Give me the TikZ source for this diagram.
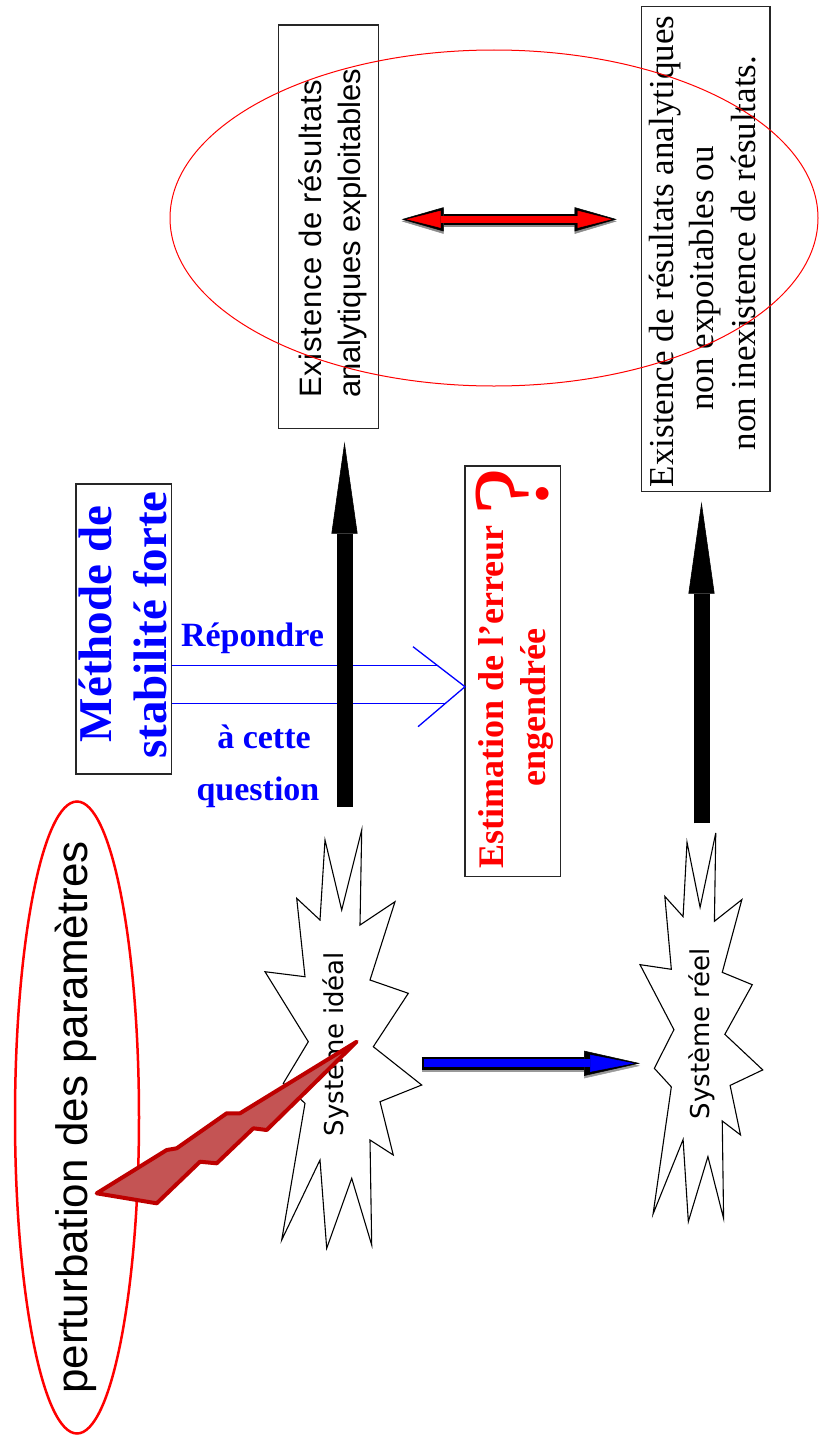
\documentclass[tikz,border=0pt]{standalone}
\usepackage{fontspec}
\setmainfont{Liberation Serif}
\newfontfamily\arialf{Liberation Sans}
\newfontfamily\arialsp[LetterSpace=2.5]{Liberation Sans}
\newfontfamily\dejaf{DejaVu Sans}
\usetikzlibrary{arrows.meta,calc}
\definecolor{boltline}{RGB}{190,0,0}
\definecolor{boltfill}{RGB}{196,84,84}
\tikzset{
  boxst/.style={draw=black!85, line width=1.5pt, inner sep=0pt, fill=white},
  rtext/.style={rotate=90, anchor=base, inner sep=0pt},
  htext/.style={anchor=base, inner sep=0pt},
  burst/.style={draw=black, line width=1.1pt, fill=white, line join=miter},
  bigarrow/.style={line width=16pt, black, -{Triangle[width=26pt,length=92pt,line width=0.6pt]}},
}
\newcommand\burstshape{%
  \draw[burst] (361.7,830) -- (360,925) -- (395,901.7) -- (370,980) -- (408.3,993.3)
   -- (373.3,1046.7) -- (421.7,1085) -- (380,1101.7) -- (393.3,1155) -- (370,1140)
   -- (371.7,1245) -- (351.7,1178.3) -- (326.7,1248.3) -- (320,1160) -- (281.7,1240)
   -- (305,1103.3) -- (283.3,1083.3) -- (308.3,1041.7) -- (265,971.7) -- (305,976.7)
   -- (296.7,898.3) -- (320,920) -- (325,840) -- (341.7,910) -- cycle;}
\begin{document}
\begin{tikzpicture}[x=1pt,y=-1pt]
\useasboundingbox (0,0) rectangle (820,1437);
\fill[white] (0,0) rectangle (820,1437);

% perturbation
\draw[red, line width=2.5pt] (77,1117.5) ellipse [x radius=62, y radius=316];
\node[rtext, font=\arialf\fontsize{44}{50}\selectfont] (pert) at (87,1117.5) {perturbation des paramètres};

% starbursts
\burstshape
\node[rtext, font=\dejaf\fontsize{26}{30}\selectfont] (ideal) at (343.3,1044) {Système idéal};
\begin{scope}[shift={(640,833)}, xscale=0.7834, yscale=0.929, shift={(-265,-830)}]
  \burstshape
\end{scope}
\node[rtext, font=\dejaf\fontsize{26}{30}\selectfont] (reel) at (709.3,1034) {Système réel};

% lightning bolt
\draw[draw=boltline, fill=boltfill, line width=4pt, line join=round]
  (96.7,1193.3) -- (166.7,1150) -- (176.7,1148.3) -- (226.7,1113.3) -- (240,1113.3)
  -- (356.7,1041.7) -- (266.7,1130) -- (253.3,1128.3) -- (216.7,1163.3) -- (200,1161.7)
  -- (156.7,1203.3) -- cycle;

% blue block arrow ideal -> reel
\coordinate (bA) at (421.7,1063.3);
\coordinate (bB) at (640,1063.3);
\draw[line width=13pt, black!40, -{Triangle[width=25pt,length=56pt,line width=0.5pt]}] ([yshift=-2.5pt]bA) -- ([yshift=-2.5pt]bB);
\draw[line width=13pt, black, -{Triangle[width=25pt,length=56pt,line width=0.5pt]}] (bA) -- (bB);
\draw[line width=8pt, blue, -{Triangle[width=17pt,length=44pt,line width=0.5pt]}, shorten >=6pt, shorten <=2.5pt] (bA) -- (bB);

% boxes
\node[boxst, minimum width=100pt, minimum height=403.3pt] (box1) at (328.3,226.7) {};
\node[boxst, minimum width=128.3pt, minimum height=485pt] (box2) at (705.8,249.2) {};
\node[boxst, minimum width=95.7pt, minimum height=290pt] (meth) at (123.8,629) {};
\node[boxst, minimum width=95.7pt, minimum height=410.7pt] (est) at (512.8,671.3) {};

% blue open arrow (Répondre à cette question)
\coordinate (u1) at (171.7,665.7);
\coordinate (u2) at (437.7,665.7);
\coordinate (l1) at (171.7,703.3);
\coordinate (l2) at (445.5,703.3);
\coordinate (tipq) at (465,686.7);
\coordinate (arm1) at (413,646.7);
\coordinate (arm2) at (418,726.7);
\draw[blue, line width=1.3pt] (u1) -- (u2);
\draw[blue, line width=1.3pt] (l1) -- (l2);
\draw[blue, line width=1.3pt, line join=miter] (arm1) -- (tipq) -- (arm2);

% black arrows
\coordinate (a1) at (344.5,806.7);
\coordinate (t1) at (344.5,441.7);
\draw[bigarrow] (a1) -- (t1);
\coordinate (a2) at (701.5,823.3);
\coordinate (t2) at (701.5,501.7);
\draw[bigarrow] (a2) -- (t2);

% box texts
\node[rtext, font=\arialsp\fontsize{31}{38}\selectfont, anchor=base west] (b1l1) at (321.7,398) {Existence de résultats};
\node[rtext, font=\arialf\fontsize{31}{38}\selectfont, anchor=base west] (b1l2) at (360,398) {analytiques exploitables};

\node[rtext, font=\fontsize{35}{41}\selectfont] (b2l1) at (673,251.5) {Existence de résultats analytiques};
\node[rtext, font=\fontsize{35}{41}\selectfont] (b2l2) at (713,278.5) {non expoitables ou};
\node[rtext, font=\fontsize{35}{41}\selectfont] (b2l3) at (755,253) {non inexistence de résultats.};

\node[rtext, blue, font=\bfseries\fontsize{47}{55}\selectfont] (m1) at (111.7,624) {Méthode de};
\node[rtext, blue, font=\bfseries\fontsize{47}{55}\selectfont] (m2) at (166.7,625) {stabilité forte};

\node[rtext, red, font=\bfseries\fontsize{36}{42}\selectfont] (e1) at (503,697) {Estimation de l'erreur};
\node[rtext, red, font=\bfseries\fontsize{36}{42}\selectfont] (e2) at (545,707.5) {engendrée};
\node[rtext, red, font=\fontsize{108}{110}\selectfont] (qm) at (547,492) {?};

\node[htext, blue, font=\bfseries\fontsize{34}{40}\selectfont] (rep) at (252.5,646.7) {Répondre};
\node[htext, blue, font=\bfseries\fontsize{34}{40}\selectfont] (ace) at (264,748.3) {à cette};
\node[htext, blue, font=\bfseries\fontsize{34}{40}\selectfont] (que) at (258,800) {question};

% top ellipse
\draw[red, line width=1pt] (494,218) ellipse [x radius=324, y radius=168];

% red double arrow
\coordinate (dL) at (401.7,219.3);
\coordinate (dR) at (616.7,219.3);
\draw[line width=12pt, black!45, {Triangle[width=25pt,length=42pt,line width=0.5pt]}-{Triangle[width=25pt,length=42pt,line width=0.5pt]}] ([yshift=-2pt]dL) -- ([yshift=-2pt]dR);
\draw[line width=11pt, black, {Triangle[width=24pt,length=42pt,line width=0.5pt]}-{Triangle[width=24pt,length=42pt,line width=0.5pt]}] (dL) -- (dR);
\draw[line width=7pt, red, {Triangle[width=17pt,length=34pt,line width=0.5pt]}-{Triangle[width=17pt,length=34pt,line width=0.5pt]}, shorten >=5pt, shorten <=5pt] (dL) -- (dR);
\end{tikzpicture}
\end{document}
